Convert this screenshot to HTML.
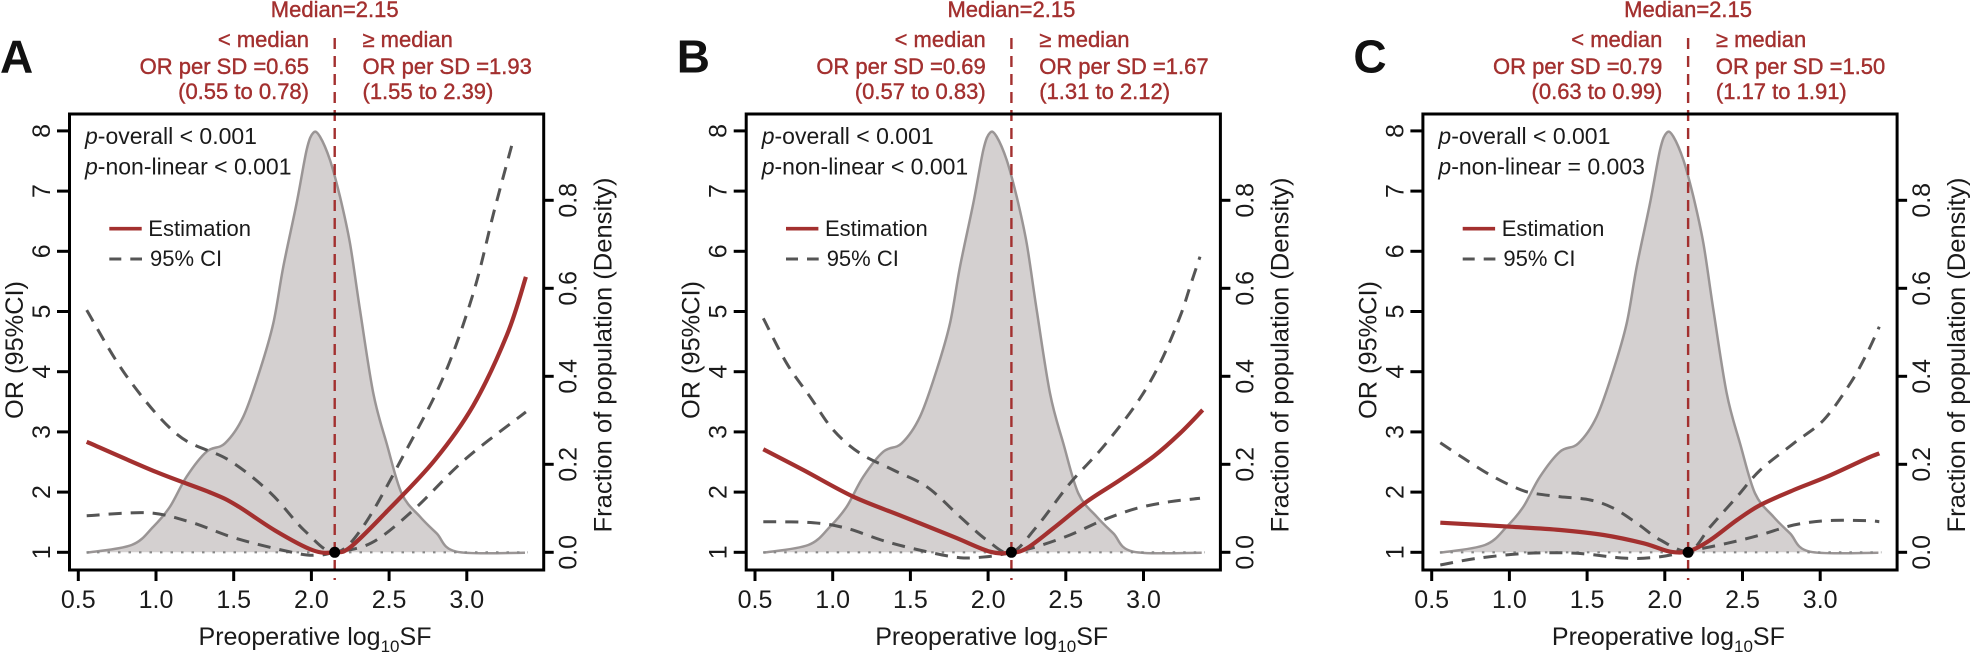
<!DOCTYPE html>
<html><head><meta charset="utf-8"><style>
html,body{margin:0;padding:0;background:#fff;}
svg{display:block;font-family:"Liberation Sans",Arial,sans-serif;}
</style></head><body>
<svg id="s" width="1971" height="654" viewBox="0 0 1971 654" xmlns="http://www.w3.org/2000/svg"></svg>
<script>
const NS="http://www.w3.org/2000/svg";
const S=document.getElementById('s');
function el(p,t,a,txt){const e=document.createElementNS(NS,t);for(const k in a)e.setAttribute(k,a[k]);if(txt!==undefined)e.textContent=txt;p.appendChild(e);return e;}
function smooth(pts){let d="M"+pts[0][0].toFixed(1)+","+pts[0][1].toFixed(1);
 for(let i=0;i<pts.length-1;i++){const p0=pts[i-1]||pts[i],p1=pts[i],p2=pts[i+1],p3=pts[i+2]||p2;
 const c1=[p1[0]+(p2[0]-p0[0])/6,p1[1]+(p2[1]-p0[1])/6],c2=[p2[0]-(p3[0]-p1[0])/6,p2[1]-(p3[1]-p1[1])/6];
 d+=" C"+c1[0].toFixed(1)+","+c1[1].toFixed(1)+" "+c2[0].toFixed(1)+","+c2[1].toFixed(1)+" "+p2[0].toFixed(1)+","+p2[1].toFixed(1);}
 return d;}
const X0=78.3,XU=155.4,Y1=552.3,YU=60.2;
const xs=v=>X0+(v-0.5)*XU, ys=v=>Y1-(v-1)*YU;
const L=69.5,R=543.7,T=114,B=570;
const red="#a3302f";
const txt="#1a1a1a";
const fA=p=>[78.3+(p[0]-185)*0.4223,552.3-(1323-p[1])*0.4154];
const fB=p=>[43.3+p[0]/3,110+p[1]/3];
const fC=p=>[23.6+p[0]/3,110+p[1]/3];
const dens=[[130,1328],[265,1305],[330,1250],[380,1190],[430,1100],[490,1025],[545,1000],[600,920],[650,780],[690,640],[720,470],[760,280],[790,120],[810,68],[830,80],[860,150],[890,260],[920,400],[950,600],[990,850],[1030,1000],[1075,1150],[1130,1220],[1180,1270],[1240,1325],[1445,1328]].map(fB);
const panels=[
 {off:0,lab:"A",lo:["OR per SD =0.65","(0.55 to 0.78)"],hi:["OR per SD =1.93","(1.55 to 2.39)"],pn:"-non-linear < 0.001",
  est:[[205,1057],[370,1130],[500,1180],[560,1210],[650,1270],[740,1318],[792,1323],[830,1310],[920,1220],[1030,1100],[1120,970],[1200,800],[1245,660]].map(fA),
  up:[[205,740],[300,900],[420,1040],[540,1100],[640,1180],[720,1270],[792,1323],[860,1260],[960,1080],[1050,900],[1120,700],[1170,500],[1215,330]].map(fA),
  lo2:[[205,1235],[350,1228],[450,1250],[560,1290],[700,1325],[750,1330],[792,1323],[880,1300],[980,1220],[1100,1100],[1245,985]].map(fA)},
 {off:676.7,lab:"B",lo:["OR per SD =0.69","(0.57 to 0.83)"],hi:["OR per SD =1.67","(1.31 to 2.12)"],pn:"-non-linear < 0.001",
  est:[[130,1018],[250,1080],[400,1160],[550,1220],[700,1280],[810,1325],[873,1328],[920,1315],[1000,1255],[1100,1175],[1200,1110],[1300,1040],[1380,970],[1448,900]].map(fB),
  up:[[130,625],[200,760],[270,860],[340,960],[420,1030],[520,1080],[620,1130],[720,1220],[800,1290],[873,1328],[950,1250],[1050,1120],[1150,1010],[1250,880],[1320,760],[1380,620],[1410,530],[1440,440]].map(fB),
  lo2:[[130,1235],[280,1238],[380,1255],[500,1295],[620,1325],[720,1343],[800,1340],[873,1328],[950,1310],[1050,1275],[1150,1230],[1250,1195],[1350,1175],[1440,1165]].map(fB)},
 {off:1353.4,lab:"C",lo:["OR per SD =0.79","(0.63 to 0.99)"],hi:["OR per SD =1.50","(1.17 to 1.91)"],pn:"-non-linear = 0.003",
  est:[[190,1238],[400,1250],[550,1260],[680,1275],[800,1300],[880,1325],[937,1323],[1000,1290],[1080,1230],[1150,1185],[1250,1140],[1350,1100],[1470,1045],[1507,1030]].map(fC),
  up:[[190,998],[260,1045],[340,1095],[420,1135],[470,1150],[550,1160],[640,1170],[710,1195],[780,1240],[850,1290],[937,1323],[1000,1250],[1080,1160],[1150,1080],[1250,1000],[1340,930],[1420,820],[1470,730],[1507,650]].map(fC),
  lo2:[[190,1365],[300,1345],[450,1330],[600,1330],[750,1345],[850,1340],[937,1323],[1050,1300],[1150,1275],[1250,1245],[1350,1232],[1470,1232],[1507,1235]].map(fC)}
];
const mx=xs(2.15);
for(const P of panels){
 const g=el(S,"g",{transform:"translate("+P.off+",0)"});
 const dd=smooth(dens);
 el(g,"path",{d:dd+" L"+dens[dens.length-1][0]+","+Y1+" L"+dens[0][0]+","+Y1+"Z",fill:"#d4d0d0",stroke:"none"});
 el(g,"path",{d:dd,fill:"none",stroke:"#9a9595","stroke-width":2.5});
 el(g,"line",{x1:86.5,y1:Y1,x2:528,y2:Y1,stroke:"#888","stroke-width":2.2,"stroke-dasharray":"2.5,8"});
 el(g,"path",{d:smooth(P.up),fill:"none",stroke:"#555","stroke-width":3,"stroke-dasharray":"13,9"});
 el(g,"path",{d:smooth(P.lo2),fill:"none",stroke:"#555","stroke-width":3,"stroke-dasharray":"13,9"});
 el(g,"path",{d:smooth(P.est),fill:"none",stroke:red,"stroke-width":4.2});
 el(g,"line",{x1:mx,y1:38,x2:mx,y2:580,stroke:red,"stroke-width":2.4,"stroke-dasharray":"11,7"});
 el(g,"circle",{cx:mx,cy:Y1,r:5.5,fill:"#000"});
 el(g,"rect",{x:L,y:T,width:R-L,height:B-T,fill:"none",stroke:"#000","stroke-width":3});
 el(g,"line",{x1:xs(0.5),y1:B,x2:xs(3.0),y2:B,stroke:"#000","stroke-width":3});
 ["0.5","1.0","1.5","2.0","2.5","3.0"].forEach(v=>{const x=xs(+v);
  el(g,"line",{x1:x,y1:B,x2:x,y2:581,stroke:"#000","stroke-width":3});
  el(g,"text",{x:x,y:608,"font-size":25,"text-anchor":"middle",fill:txt},v);});
 const xt=el(g,"text",{x:315,y:645,"font-size":25,"text-anchor":"middle",fill:txt});
 xt.innerHTML='Preoperative log<tspan font-size="17" dy="7">10</tspan><tspan dy="-7">SF</tspan>';
 for(let v=1;v<=8;v++){const y=ys(v);
  el(g,"line",{x1:57,y1:y,x2:L,y2:y,stroke:"#000","stroke-width":3});
  el(g,"text",{transform:"translate(50,"+y+") rotate(-90)","font-size":25,"text-anchor":"middle",fill:txt},String(v));}
 el(g,"text",{transform:"translate(23,350) rotate(-90)","font-size":25,"text-anchor":"middle",fill:txt,textLength:138,lengthAdjust:"spacingAndGlyphs"},"OR (95%CI)");
 [0,0.2,0.4,0.6,0.8].forEach(v=>{const y=Y1-v*440;
  el(g,"line",{x1:R,y1:y,x2:R+10,y2:y,stroke:"#000","stroke-width":3});
  el(g,"text",{transform:"translate("+(R+33)+","+y+") rotate(-90)","font-size":25,"text-anchor":"middle",fill:txt},v.toFixed(1));});
 el(g,"text",{transform:"translate("+(R+68)+",355) rotate(-90)","font-size":25,"text-anchor":"middle",fill:txt,textLength:355,lengthAdjust:"spacingAndGlyphs"},"Fraction of population (Density)");
 el(g,"text",{x:0,y:72.7,"font-size":46,"font-weight":"bold",fill:"#111"},P.lab);
 const rs={"font-size":22,fill:red,stroke:red,"stroke-width":0.4};
 el(g,"text",Object.assign({x:mx,y:17,"text-anchor":"middle"},rs),"Median=2.15");
 el(g,"text",Object.assign({x:309,y:47,"text-anchor":"end"},rs),"< median");
 el(g,"text",Object.assign({x:309,y:74,"text-anchor":"end"},rs),P.lo[0]);
 el(g,"text",Object.assign({x:309,y:99,"text-anchor":"end"},rs),P.lo[1]);
 el(g,"text",Object.assign({x:362.5,y:47},rs),"≥ median");
 el(g,"text",Object.assign({x:362.5,y:74},rs),P.hi[0]);
 el(g,"text",Object.assign({x:362.5,y:99},rs),P.hi[1]);
 const t1=el(g,"text",{x:85,y:144,"font-size":23,fill:txt});t1.innerHTML='<tspan font-style="italic">p</tspan>-overall &lt; 0.001';
 const t2=el(g,"text",{x:85,y:174.3,"font-size":23,fill:txt});t2.innerHTML='<tspan font-style="italic">p</tspan>'+P.pn.replace("<","&lt;");
 el(g,"line",{x1:109.3,y1:228.7,x2:141.7,y2:228.7,stroke:red,"stroke-width":3.6});
 el(g,"text",{x:148.3,y:236,"font-size":22,fill:txt},"Estimation");
 el(g,"line",{x1:109.3,y1:259,x2:142,y2:259,stroke:"#555","stroke-width":3,"stroke-dasharray":"12,9"});
 el(g,"text",{x:150,y:266,"font-size":22,fill:txt},"95% CI");
}
</script>
</body></html>
